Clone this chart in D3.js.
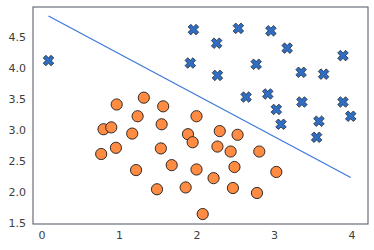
<!DOCTYPE html>
<html>
<head>
<meta charset="utf-8">
<script src="https://cdn.jsdelivr.net/npm/d3@7"></script>
<style>
  html, body { margin: 0; padding: 0; background: #fff; }
  svg { display: block; }
  .tick text { font-family: "DejaVu Sans", sans-serif; font-size: 11px; fill: #3d3d3d; }
</style>
</head>
<body>
<svg id="chart"></svg>
<script>
// class 0 (orange circles)
const orangeX = [0.97, 1.32, 1.57, 1.24, 2.00, 0.80, 0.90, 1.55, 1.17, 1.89, 1.95, 0.77, 0.96, 1.54, 1.68,
                 2.30, 2.53, 2.27, 2.44, 2.81, 1.22, 2.00, 2.49, 2.22, 3.03, 1.49, 1.86, 2.47, 2.78, 2.08];
const orangeY = [3.41, 3.52, 3.38, 3.22, 3.22, 3.01, 3.04, 3.09, 2.94, 2.93, 2.80, 2.61, 2.71, 2.70, 2.43,
                 2.98, 2.92, 2.73, 2.65, 2.65, 2.35, 2.36, 2.40, 2.22, 2.32, 2.04, 2.07, 2.06, 1.98, 1.64];

// class 1 (blue crosses)
const blueX = [0.09, 1.96, 2.54, 2.96, 2.26, 3.17, 1.92, 2.77, 2.27, 3.89, 3.35, 3.64, 2.64, 2.92, 3.03,
               3.36, 3.89, 3.99, 3.09, 3.58, 3.55];
const blueY = [4.12, 4.62, 4.64, 4.60, 4.40, 4.32, 4.08, 4.06, 3.88, 4.20, 3.93, 3.90, 3.53, 3.58, 3.33,
               3.45, 3.45, 3.22, 3.09, 3.14, 2.88];

// decision boundary
const lineX = [0.09, 3.99];
const lineY = [4.84, 2.23];

const xTicks = [0, 1, 2, 3, 4];
const yTicks = [1.5, 2.0, 2.5, 3.0, 3.5, 4.0, 4.5];

const width = 374, height = 250;
const plotLeft = 33, plotRight = 368, plotTop = 7, plotBottom = 224;

const svg = d3.select('#chart').attr('width', width).attr('height', height);

const x = d3.scaleLinear().domain([-0.11, 4.213]).range([plotLeft, plotRight]);
const y = d3.scaleLinear().domain([1.479, 4.985]).range([plotBottom, plotTop]);

// axes (no tick marks, like seaborn "white")
const xAxis = svg.append('g')
    .attr('transform', `translate(0,${plotBottom})`)
    .call(d3.axisBottom(x).tickValues(xTicks).tickSize(0).tickPadding(7).tickFormat(d3.format('d')));
xAxis.select('.domain').remove();

const yAxis = svg.append('g')
    .attr('transform', `translate(${plotLeft},0)`)
    .call(d3.axisLeft(y).tickValues(yTicks).tickSize(0).tickPadding(7).tickFormat(d3.format('.1f')));
yAxis.select('.domain').remove();
yAxis.selectAll('.tick text').attr('dy', '0.36em');

// frame
svg.append('rect')
    .attr('x', plotLeft).attr('y', plotTop)
    .attr('width', plotRight - plotLeft).attr('height', plotBottom - plotTop)
    .attr('fill', 'none')
    .attr('stroke', '#5b626d')
    .attr('stroke-width', 1.1);

const plot = svg.append('g');

// orange circles
plot.selectAll('circle.c0')
    .data(orangeX.map((v, i) => [v, orangeY[i]]))
    .enter().append('circle')
    .attr('class', 'c0')
    .attr('cx', d => x(d[0]))
    .attr('cy', d => y(d[1]))
    .attr('r', 5.6)
    .attr('fill', '#ff8c42')
    .attr('stroke', '#1a1a1a')
    .attr('stroke-width', 0.9);

// filled "X" marker, plus shape rotated 45 degrees
function xMarker(a, b) {
    const pts = [[b, a], [b, b], [a, b], [a, -b], [b, -b], [b, -a],
                 [-b, -a], [-b, -b], [-a, -b], [-a, b], [-b, b], [-b, a]];
    const c = Math.SQRT1_2;
    return 'M' + pts.map(p => [(p[0] - p[1]) * c, (p[0] + p[1]) * c].join(',')).join('L') + 'Z';
}
const xPath = xMarker(5.6, 1.9);

plot.selectAll('path.c1')
    .data(blueX.map((v, i) => [v, blueY[i]]))
    .enter().append('path')
    .attr('class', 'c1')
    .attr('d', xPath)
    .attr('transform', d => `translate(${x(d[0])},${y(d[1])})`)
    .attr('fill', '#2f6ec2')
    .attr('stroke', '#1a1a1a')
    .attr('stroke-width', 0.7);

// boundary line
plot.append('path')
    .datum(lineX.map((v, i) => [v, lineY[i]]))
    .attr('d', d3.line().x(d => x(d[0])).y(d => y(d[1])))
    .attr('fill', 'none')
    .attr('stroke', '#3b78d8')
    .attr('stroke-width', 1.2);
</script>
</body>
</html>
